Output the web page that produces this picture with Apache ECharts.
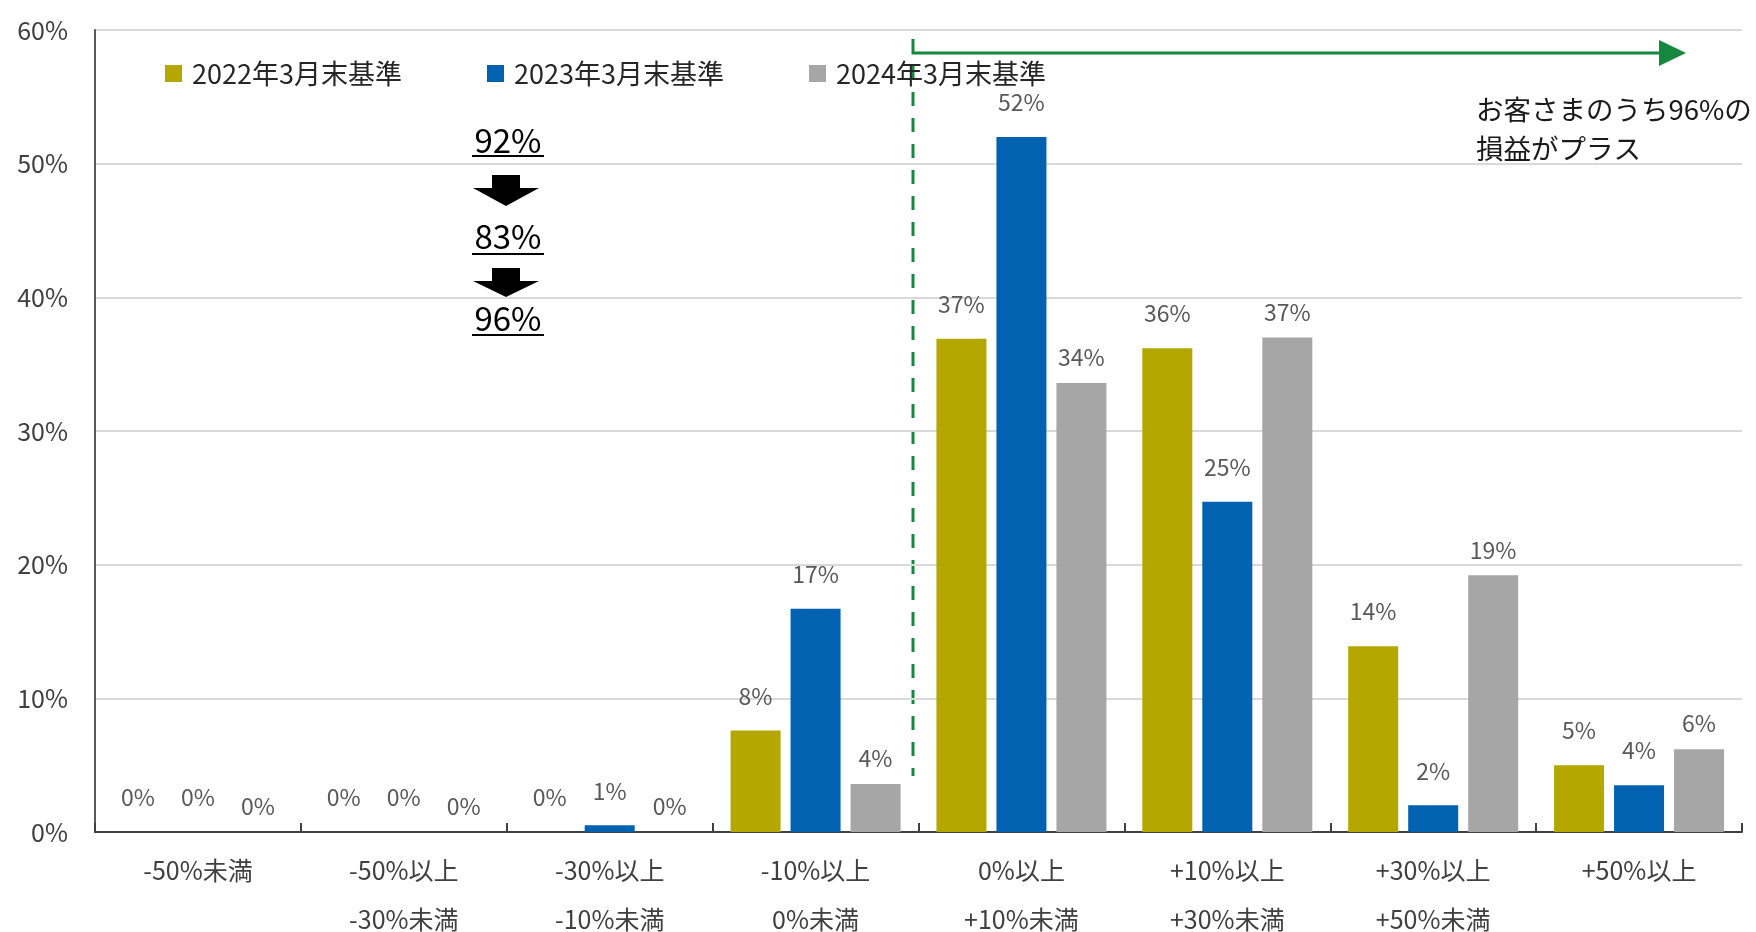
<!DOCTYPE html>
<html>
<head>
<meta charset="utf-8">
<script src="https://cdn.jsdelivr.net/npm/echarts@6/dist/echarts.min.js"></script>
<style>
html,body{margin:0;padding:0;background:#fff;}
#chart{width:1756px;height:932px;}
</style>
</head>
<body>
<div id="chart"></div>
<script>
const categories = ['-50%未満', '-50%以上\n-30%未満', '-30%以上\n-10%未満', '-10%以上\n0%未満', '0%以上\n+10%未満', '+10%以上\n+30%未満', '+30%以上\n+50%未満', '+50%以上'];
const seriesNames = ['2022年3月末基準', '2023年3月末基準', '2024年3月末基準'];
const s2022 = [0, 0, 0, 7.6, 36.9, 36.2, 13.9, 5.0];
const s2023 = [0, 0, 0.5, 16.7, 52.0, 24.7, 2.0, 3.5];
const s2024 = [0, 0, 0, 3.6, 33.6, 37.0, 19.2, 6.2];
const yMin = 0, yMax = 60, yInterval = 10;
const ratioTexts = ['92%', '83%', '96%'];
const noteLines = ['お客さまのうち96%の', '損益がプラス'];

const colors = ['#B3A700', '#0062B1', '#A6A6A6'];
const FONT = '"Noto Sans CJK JP", "Noto Sans", sans-serif';
const GREEN = '#15873E';

const chart = echarts.init(document.getElementById('chart'));

function makeSeries(name, data, color, dist) {
  return {
    name: name, type: 'bar', data: data, barWidth: 50, barGap: '20%',
    itemStyle: { color: color },
    label: {
      show: true, position: 'top', distance: dist,
      formatter: p => Math.round(p.value) + '%',
      color: '#595959', fontSize: 23, fontFamily: FONT
    }
  };
}

function legendAt(left, idx) {
  return {
    left: left, top: 55, data: [seriesNames[idx]],
    icon: 'rect', itemWidth: 17, itemHeight: 17,
    selectedMode: false,
    textStyle: { fontSize: 27, color: '#262626', fontFamily: FONT, padding: [0, 0, 0, 5] }
  };
}

const graphics = [];
const ratioY = [140, 236, 318];
ratioTexts.forEach((t, i) => {
  graphics.push({ type: 'text', x: 508, y: ratioY[i],
    style: { text: t, font: '33px ' + FONT, fill: '#000', align: 'center', verticalAlign: 'middle' } });
});
[156, 254, 335].forEach(y => {
  graphics.push({ type: 'line', shape: { x1: 472, y1: y, x2: 544, y2: y }, style: { stroke: '#000', lineWidth: 2 } });
});
[[175, 188, 206], [268, 281, 297]].forEach(a => {
  graphics.push({ type: 'polygon', shape: { points: [[492, a[0]], [520, a[0]], [520, a[1]], [539, a[1]], [506, a[2]], [473, a[1]], [492, a[1]]] },
    style: { fill: '#000' } });
});
graphics.push({ type: 'line', shape: { x1: 913, y1: 66, x2: 913, y2: 776 },
  style: { stroke: GREEN, lineWidth: 3, lineDash: [14, 12] } });
graphics.push({ type: 'polyline', shape: { points: [[913, 39], [913, 53], [1662, 53]] },
  style: { stroke: GREEN, lineWidth: 3, fill: null } });
graphics.push({ type: 'polygon', shape: { points: [[1659, 40], [1686, 53], [1659, 66]] }, style: { fill: GREEN } });
noteLines.forEach((t, i) => {
  graphics.push({ type: 'text', x: 1476, y: 110 + i * 39,
    style: { text: t, font: '27.5px ' + FONT, fill: '#1a1a1a', align: 'left', verticalAlign: 'middle' } });
});

chart.setOption({
  animation: false,
  color: colors,
  grid: { left: 95, right: 14, top: 30, bottom: 100, containLabel: false, outerBoundsMode: 'none' },
  legend: [legendAt(160, 0), legendAt(482, 1), legendAt(804, 2)],
  xAxis: {
    type: 'category', data: categories,
    axisLine: { lineStyle: { color: '#404040', width: 2 } },
    axisTick: { show: true, inside: true, length: 9, lineStyle: { color: '#404040', width: 2 } },
    axisLabel: { fontSize: 25, color: '#404040', fontFamily: FONT, lineHeight: 49, margin: 14, interval: 0 }
  },
  yAxis: {
    type: 'value', min: yMin, max: yMax, interval: yInterval,
    axisLine: { show: true, lineStyle: { color: '#595959', width: 2 } },
    axisTick: { show: false },
    splitLine: { lineStyle: { color: '#D9D9D9', width: 2 } },
    axisLabel: { formatter: '{value}%', fontSize: 25, color: '#404040', fontFamily: FONT, margin: 27 }
  },
  series: [
    makeSeries(seriesNames[0], s2022, colors[0], 23),
    makeSeries(seriesNames[1], s2023, colors[1], 23),
    makeSeries(seriesNames[2], s2024, colors[2], 14)
  ],
  graphic: graphics
});
</script>
</body>
</html>
